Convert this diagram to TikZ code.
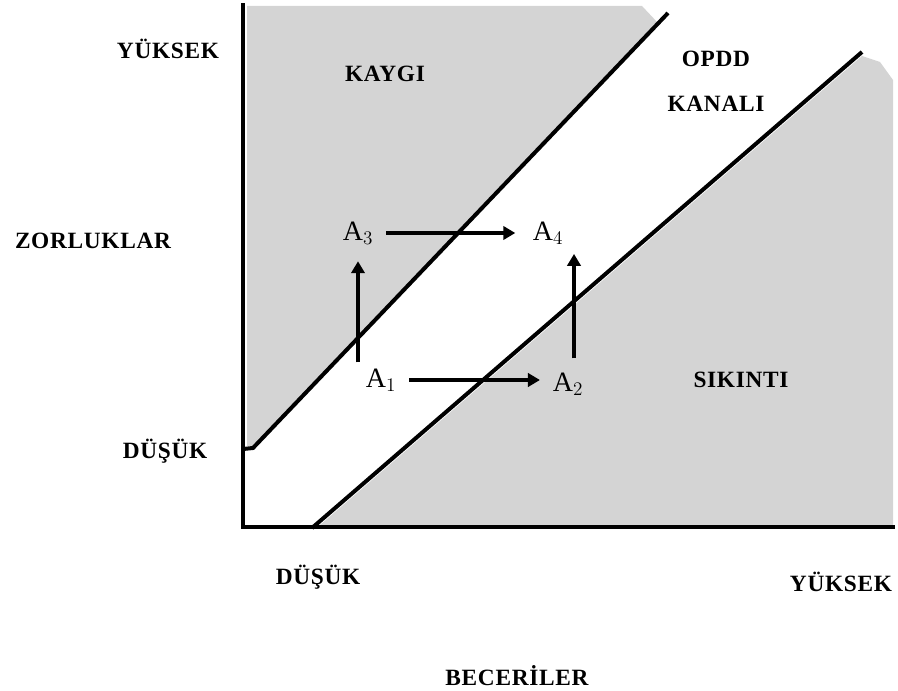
\documentclass[tikz,border=0pt]{standalone}
\usepackage{fontspec}
\setmainfont{Liberation Serif}
\newfontfamily\labfont{Liberation Serif}[LetterSpace=3]
\usetikzlibrary{arrows.meta}
\definecolor{shade}{RGB}{212,212,212}
\tikzset{
  lab/.style={font=\labfont\bfseries\fontsize{17.5}{19}\selectfont, inner sep=0pt, anchor=center},
  pt/.style={font=\fontsize{21}{23}\selectfont, inner sep=0pt, anchor=center},
  axis/.style={line width=3pt, line cap=rect},
  diag/.style={line width=3pt},
  arr/.style={line width=3pt, -{Triangle[length=9pt,width=10pt]}},
  region/.style={fill=shade, draw=none}
}
\begin{document}
\begin{tikzpicture}[x=0.75pt,y=-0.75pt]
\useasboundingbox (0,0) rectangle (898,691);
% shaded regions
\fill[region] (247,446) -- (247,6) -- (642,6) -- (657,22) -- (253,446) -- cycle;
\fill[region] (320,525) -- (862,56) -- (880,62) -- (893,80) -- (893,525) -- cycle;
% axes
\draw[axis] (243,5) -- (243,527) -- (893,527);
% channel lines
\draw[diag] (243,449) -- (253,448) -- (668,13);
\draw[diag] (312,528) -- (862,52);
% labels
\node[lab] (yy) at (168,49) {YÜKSEK};
\node[lab] (zor) at (93,241) {ZORLUKLAR};
\node[lab] (yd) at (165,451) {DÜŞÜK};
\node[lab] (xd) at (318,577) {DÜŞÜK};
\node[lab] (xy) at (841,582) {YÜKSEK};
\node[lab] (bec) at (517,676) {BECERİLER};
\node[lab] (kay) at (385,74) {KAYGI};
\node[lab] (opdd) at (716,59) {OPDD};
\node[lab] (kan) at (716,104) {KANALI};
\node[lab] (sik) at (741,380) {SIKINTI};
% points
\node[pt] (A3) at (358,233) {A$_3$};
\node[pt] (A4) at (548,233) {A$_4$};
\node[pt] (A1) at (381,380) {A$_1$};
\node[pt] (A2) at (568,384) {A$_2$};
% arrows
\draw[arr, shorten >=13pt] (A3.east) ++(13,0) -- (A3.east -| A4.west);
\draw[arr, shorten >=9.5pt] (A1.east) ++(13,0) -- (A1.east -| A2.west);
\draw[arr, shorten >=12.5pt] (A1.north -| A3.south) ++(0,-6) -- (A3.south);
\draw[arr, shorten >=7pt] (A2.north) ++(6,-14) coordinate (a2s) -- (a2s |- A4.south);
\end{tikzpicture}
\end{document}
